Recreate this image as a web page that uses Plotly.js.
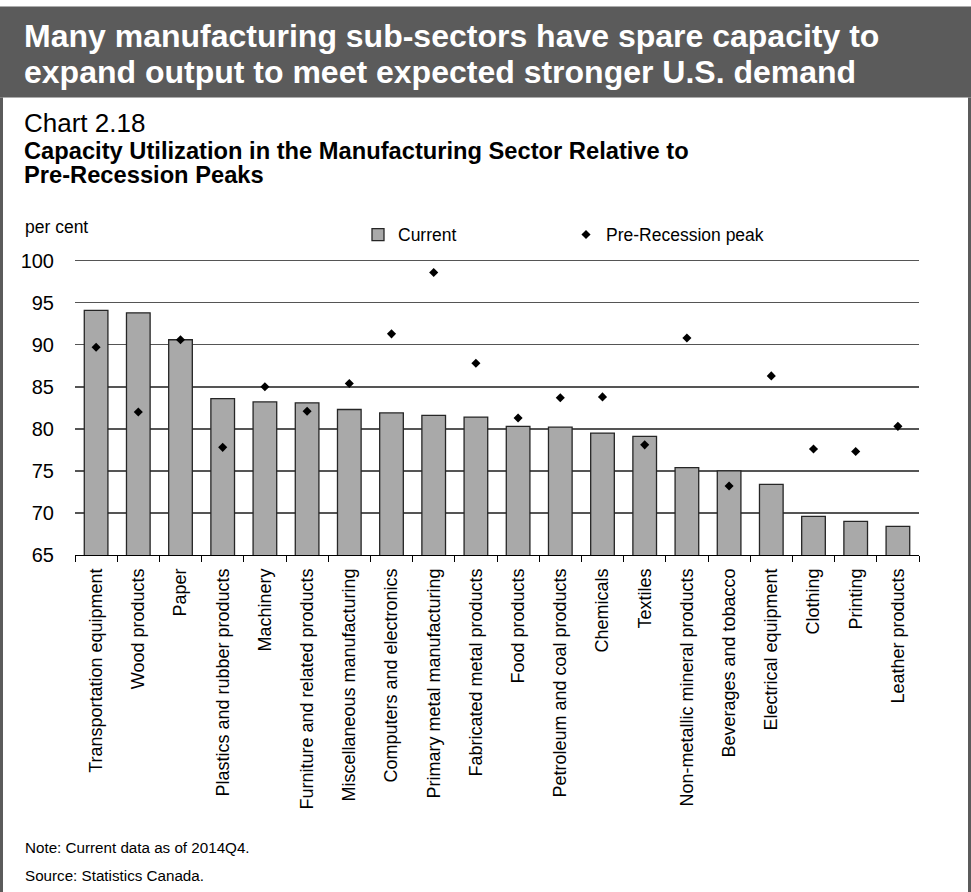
<!DOCTYPE html>
<html>
<head>
<meta charset="utf-8">
<script src="https://cdn.plot.ly/plotly-3.0.1.min.js"></script>
<style>
  html, body { margin: 0; padding: 0; background: #ffffff; overflow: hidden; }
  #chart { width: 971px; height: 892px; }
</style>
</head>
<body>
<div id="chart"></div>
<script>
// ---- data ----
const categories = [
  "Transportation equipment", "Wood products", "Paper", "Plastics and rubber products",
  "Machinery", "Furniture and related products", "Miscellaneous manufacturing",
  "Computers and electronics", "Primary metal manufacturing", "Fabricated metal products",
  "Food products", "Petroleum and coal products", "Chemicals", "Textiles",
  "Non-metallic mineral products", "Beverages and tobacco", "Electrical equipment",
  "Clothing", "Printing", "Leather products"
];
const currentValues = [94.1, 93.8, 90.6, 83.6, 83.2, 83.1, 82.3, 81.9, 81.6, 81.4,
                       80.3, 80.2, 79.5, 79.1, 75.4, 75.0, 73.4, 69.6, 69.0, 68.4];
const peakValues    = [89.7, 82.0, 90.6, 77.8, 85.0, 82.1, 85.4, 91.3, 98.6, 87.8,
                       81.3, 83.7, 83.8, 78.1, 90.8, 73.2, 86.3, 77.6, 77.3, 80.3];
const yTickValues = [65, 70, 75, 80, 85, 90, 95, 100];
const seriesNames = ["Current", "Pre-Recession peak"];

// ---- geometry helpers (pixel -> paper) ----
const W = 971, H = 892, L = 75, R = 919, T = 259.3, B = 555;
const px = x => (x - L) / (R - L);
const py = y => (B - y) / (B - T);
const FONT = "Liberation Sans, Arial, Helvetica, sans-serif";
const FRAME = "#5b5b5b";
const yMin = yTickValues[0], yMax = yTickValues[yTickValues.length - 1];
const yTop = yMax + 0.2; // headroom so Plotly draws the top (100) gridline

const traces = [
  {
    type: "bar",
    name: seriesNames[0],
    x: categories,
    y: currentValues,
    width: 0.56,
    marker: { color: "#a9a9a9", line: { color: "#262626", width: 1.3 } },
    legend: "legend",
    hoverinfo: "x+y"
  },
  {
    type: "scatter",
    mode: "markers",
    name: seriesNames[1],
    x: categories,
    y: peakValues,
    marker: { symbol: "diamond", color: "#000000", size: 7 },
    legend: "legend2",
    hoverinfo: "x+y"
  }
];

function note(text, x, y, size, opts) {
  return Object.assign({
    text: text, xref: "paper", yref: "paper", x: px(x), y: py(y),
    xanchor: "left", yanchor: "middle", showarrow: false,
    font: { family: FONT, size: size, color: "#000000" }
  }, opts || {});
}

const annotations = [
  note("Many manufacturing sub-sectors have spare capacity to", 22, 37, 32,
       { font: { family: FONT, size: 32, color: "#ffffff", weight: "bold" } }),
  note("expand output to meet expected stronger U.S. demand", 22, 72, 32,
       { font: { family: FONT, size: 32, color: "#ffffff", weight: "bold" } }),
  note("Chart 2.18", 22, 123, 26),
  note("Capacity Utilization in the Manufacturing Sector Relative to", 22, 151, 23.7,
       { font: { family: FONT, size: 23.7, color: "#000000", weight: "bold" } }),
  note("Pre-Recession Peaks", 22, 175, 23.7,
       { font: { family: FONT, size: 23.7, color: "#000000", weight: "bold" } }),
  note("per cent", 23, 227, 17.5),
  note("Note: Current data as of 2014Q4.", 23, 847, 15.2),
  note("Source: Statistics Canada.", 23, 875, 15.2)
];

const shapes = [
  { type: "rect", xref: "paper", yref: "paper", x0: px(0), x1: px(W), y0: py(98), y1: py(7),
    fillcolor: FRAME, line: { width: 0 }, layer: "below" },
  { type: "rect", xref: "paper", yref: "paper", x0: px(0), x1: px(3), y0: py(H), y1: py(98),
    fillcolor: FRAME, line: { width: 0 }, layer: "below" },
  { type: "rect", xref: "paper", yref: "paper", x0: px(968), x1: px(W), y0: py(H), y1: py(98),
    fillcolor: FRAME, line: { width: 0 }, layer: "below" }
];

const layout = {
  width: W, height: H, autosize: false,
  margin: { l: L, r: W - R, t: T, b: H - B, pad: 0 },
  paper_bgcolor: "#ffffff", plot_bgcolor: "#ffffff",
  font: { family: FONT, color: "#000000" },
  showlegend: true,
  legend: {
    orientation: "h", xref: "paper", yref: "paper",
    x: px(358), y: py(235), xanchor: "left", yanchor: "middle",
    font: { family: FONT, size: 17.5, color: "#000000" },
    bgcolor: "rgba(0,0,0,0)", itemwidth: 30
  },
  legend2: {
    orientation: "h", xref: "paper", yref: "paper",
    x: px(566), y: py(235), xanchor: "left", yanchor: "middle",
    font: { family: FONT, size: 17.5, color: "#000000" },
    bgcolor: "rgba(0,0,0,0)", itemwidth: 30
  },
  xaxis: {
    type: "category", range: [-0.5, categories.length - 0.5], autorange: false,
    showline: true, linecolor: "#000000", linewidth: 1.2,
    ticks: "outside", tickson: "boundaries", ticklen: 6, tickcolor: "#000000", tickwidth: 1,
    tickangle: -90, ticklabelstandoff: 5,
    tickfont: { family: FONT, size: 18, color: "#000000" },
    showgrid: false, zeroline: false, fixedrange: true
  },
  yaxis: {
    range: [yMin, yTop], autorange: false,
    tickvals: yTickValues, ticktext: yTickValues.map(String),
    showline: false, ticks: "", ticklabelstandoff: 20,
    tickfont: { family: FONT, size: 20, color: "#000000" },
    showgrid: true, gridcolor: "#555555", gridwidth: 1.4,
    zeroline: false, fixedrange: true
  },
  bargap: 0.44,
  annotations: annotations,
  shapes: shapes
};

Plotly.newPlot("chart", traces, layout, { displayModeBar: false, staticPlot: true });
</script>
</body>
</html>
